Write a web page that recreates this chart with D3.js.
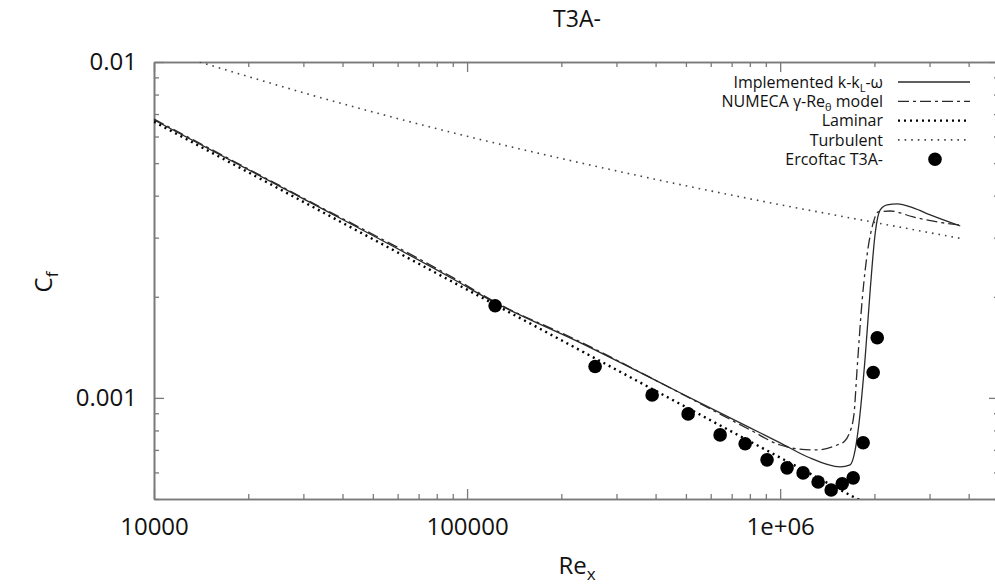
<!DOCTYPE html>
<html lang="en">
<meta charset="utf-8">
<title>T3A- skin friction</title>
<head>
  <style>
    body { margin: 0; background: #fff; }
    text { font-family: "Open Sans", "Noto Sans", sans-serif; fill: #111; }
  </style>
</head>
<body>
  <script src="https://d3js.org/d3.v7.min.js"></script>
  <div id="chart"></div>
  <script>

    // ---- data ----
    var reLaminar = [1e4, 1e5, 1e6, 1.8e6];
    var cfLaminar = [0.00664, 0.0021, 0.000664, 0.000495];

    var reTurb = [1.4e4, 2e4, 3e4, 5e4, 1e5, 2e5, 5e5, 1e6, 2e6, 3.8e6];
    var cfTurb = [0.0100, 0.00905, 0.0081, 0.0071, 0.00601, 0.00516, 0.00428, 0.00376, 0.00333, 0.00298];

    var reImpl = [1e4, 2.93e4, 9.02e4, 1.229e5, 2.296e5, 4.137e5, 5.55e5, 8.02e5, 1e6, 1.22e6, 1.555e6,
      1.673e6, 1.736e6, 1.775e6, 1.869e6, 1.939e6, 2.012e6, 2.087e6, 2.197e6, 2.365e6, 2.66e6, 3.015e6, 3.76e6];
    var cfImpl = [0.00672, 0.00396, 0.00226, 0.00192, 0.00146, 0.00111, 0.000966, 0.000814, 0.000735, 0.000668, 0.000623,
      0.000632, 0.000700, 0.000803, 0.001324, 0.002096, 0.003097, 0.003626, 0.003754, 0.003780, 0.003678, 0.003505, 0.003249];

    var reNum = [1e4, 2.93e4, 9.02e4, 1.229e5, 2.296e5, 4.137e5, 5.55e5, 8.02e5, 1e6, 1.133e6, 1.313e6, 1.521e6,
      1.6e6, 1.66e6, 1.72e6, 1.76e6, 1.828e6, 1.911e6, 1.982e6, 2.056e6, 2.246e6, 2.66e6, 3.175e6, 3.76e6];
    var cfNum = [0.00676, 0.00398, 0.00228, 0.00193, 0.00147, 0.00111, 0.000962, 0.000803, 0.000724, 0.000705, 0.000700, 0.000724,
      0.000740, 0.000781, 0.000890, 0.001211, 0.001957, 0.002814, 0.003318, 0.003577, 0.003601, 0.003457, 0.003341, 0.003272];

    var reExp = [122900, 256400, 390000, 508200, 643000, 773000, 908000, 1052000, 1184000, 1322000, 1455000,
      1578000, 1711000, 1841000, 1982000, 2042000];
    var cfExp = [0.00188, 0.00124, 0.00102, 0.000896, 0.000776, 0.000730, 0.000654, 0.000619, 0.000598, 0.000562, 0.000532,
      0.000555, 0.000578, 0.000735, 0.00119, 0.00151];

    var xMajor = [1e4, 1e5, 1e6];
    var xMajorLabels = ["10000", "100000", "1e+06"];
    var yMajor = [0.001, 0.01];
    var yMajorLabels = ["0.001", "0.01"];

    var legendNames = ["Implemented k-k|L|-ω", "NUMECA γ-Re|θ| model", "Laminar", "Turbulent", "Ercoftac T3A-"];

    // ---- layout ----
    var W = 995, H = 586;
    var margin = { top: 62, right: -4, bottom: 87, left: 154 };
    var width = W - margin.left - margin.right,
      height = H - margin.top - margin.bottom;

    var svg = d3.select("#chart").append("svg")
      .attr("width", W).attr("height", H);

    var g = svg.append("g")
      .attr("transform", "translate(" + margin.left + "," + margin.top + ")");

    var x = d3.scaleLog().domain([1e4, 5e6]).range([0, width]);
    var y = d3.scaleLog().domain([0.0005, 0.01]).range([height, 0]);

    // minor ticks 2..9 in each decade
    var xMinor = [], yMinor = [];
    [1e4, 1e5, 1e6].forEach(function (d) {
      for (var k = 2; k <= 9; k++) if (d * k <= 5e6) xMinor.push(d * k);
    });
    [0.0001, 0.001].forEach(function (d) {
      for (var k = 2; k <= 9; k++) if (d * k >= 0.0005 && d * k < 0.01) yMinor.push(d * k);
    });

    var axisColor = "#7a7a7a";

    function styleAxis(sel) {
      sel.selectAll("path.domain").attr("stroke", axisColor).attr("stroke-width", 1.6);
      sel.selectAll(".tick line").attr("stroke", axisColor).attr("stroke-width", 1.3);
      sel.selectAll("text").attr("font-size", 24).attr("fill", "#111")
        .attr("font-family", "'Open Sans', 'Noto Sans', sans-serif");
    }

    // bottom
    g.append("g").attr("transform", "translate(0," + height + ")")
      .call(d3.axisBottom(x).tickValues(xMinor).tickSize(-5).tickSizeOuter(0).tickFormat(""))
      .call(styleAxis);
    g.append("g").attr("transform", "translate(0," + height + ")")
      .call(d3.axisBottom(x).tickValues(xMajor).tickSize(-10).tickSizeOuter(0).tickPadding(19)
        .tickFormat(function (d, i) { return xMajorLabels[i]; }))
      .call(styleAxis);
    // top
    g.append("g")
      .call(d3.axisTop(x).tickValues(xMinor).tickSize(-5).tickSizeOuter(0).tickFormat(""))
      .call(styleAxis);
    g.append("g")
      .call(d3.axisTop(x).tickValues(xMajor).tickSize(-10).tickSizeOuter(0).tickFormat(""))
      .call(styleAxis);
    // left
    g.append("g")
      .call(d3.axisLeft(y).tickValues(yMinor).tickSize(-5).tickSizeOuter(0).tickFormat(""))
      .call(styleAxis);
    g.append("g")
      .call(d3.axisLeft(y).tickValues(yMajor).tickSize(-10).tickSizeOuter(0).tickPadding(17)
        .tickFormat(function (d, i) { return yMajorLabels[i]; }))
      .call(styleAxis);
    // right
    g.append("g").attr("transform", "translate(" + width + ",0)")
      .call(d3.axisRight(y).tickValues(yMinor).tickSize(-5).tickSizeOuter(0).tickFormat(""))
      .call(styleAxis);
    g.append("g").attr("transform", "translate(" + width + ",0)")
      .call(d3.axisRight(y).tickValues(yMajor).tickSize(-10).tickSizeOuter(0).tickFormat(""))
      .call(styleAxis);

    // clip
    g.append("clipPath").attr("id", "clip")
      .append("rect").attr("width", width).attr("height", height);

    var plot = g.append("g").attr("clip-path", "url(#clip)");

    var line = d3.line()
      .curve(d3.curveMonotoneX)
      .x(function (d) { return x(d[0]); })
      .y(function (d) { return y(d[1]); });

    function pairs(a, b) { return a.map(function (v, i) { return [v, b[i]]; }); }

    var styles = [
      { stroke: "#2a2a2a", width: 1.3, dash: null },
      { stroke: "#2a2a2a", width: 1.3, dash: "11,4,3,4" },
      { stroke: "#000", width: 2.4, dash: "2,4" },
      { stroke: "#444", width: 1.6, dash: "1.6,5" }
    ];

    var series = [
      pairs(reImpl, cfImpl),
      pairs(reNum, cfNum),
      pairs(reLaminar, cfLaminar),
      pairs(reTurb, cfTurb)
    ];

    series.forEach(function (s, i) {
      plot.append("path")
        .datum(s)
        .attr("fill", "none")
        .attr("stroke", styles[i].stroke)
        .attr("stroke-width", styles[i].width)
        .attr("stroke-dasharray", styles[i].dash)
        .attr("d", line);
    });

    plot.selectAll("circle.exp")
      .data(pairs(reExp, cfExp))
      .enter().append("circle")
      .attr("class", "exp")
      .attr("cx", function (d) { return x(d[0]); })
      .attr("cy", function (d) { return y(d[1]); })
      .attr("r", 6.8)
      .attr("fill", "#000");

    // ---- legend ----
    var legend = svg.append("g").attr("transform", "translate(883,82)");
    legendNames.forEach(function (name, i) {
      var row = legend.append("g").attr("transform", "translate(0," + (i * 19.3) + ")");
      var t = row.append("text")
        .attr("text-anchor", "end")
        .attr("dy", "0.35em")
        .attr("font-size", 16);
      var parts = name.split("|");
      t.append("tspan").text(parts[0]);
      if (parts.length > 1) {
        t.append("tspan").attr("font-size", 11).attr("dy", 4).text(parts[1]);
        t.append("tspan").attr("dy", -4).text(parts[2]);
      }
      if (i < 4) {
        row.append("line")
          .attr("x1", 15).attr("x2", 87).attr("y1", 0).attr("y2", 0)
          .attr("stroke", styles[i].stroke)
          .attr("stroke-width", styles[i].width)
          .attr("stroke-dasharray", styles[i].dash);
      } else {
        row.append("circle").attr("cx", 52).attr("cy", 0).attr("r", 6.8).attr("fill", "#000");
      }
    });

    // ---- titles ----
    svg.append("text")
      .attr("x", 577).attr("y", 27)
      .attr("text-anchor", "middle")
      .attr("font-size", 23)
      .text("T3A-");

    var xl = svg.append("text")
      .attr("x", 577).attr("y", 574)
      .attr("text-anchor", "middle")
      .attr("font-size", 24);
    xl.append("tspan").text("Re");
    xl.append("tspan").attr("font-size", 17).attr("dy", 6).text("x");

    var yl = svg.append("text")
      .attr("transform", "translate(52,282) rotate(-90)")
      .attr("text-anchor", "middle")
      .attr("font-size", 24);
    yl.append("tspan").text("C");
    yl.append("tspan").attr("font-size", 17).attr("dy", 6).text("f");

  </script>
</body>
</html>
